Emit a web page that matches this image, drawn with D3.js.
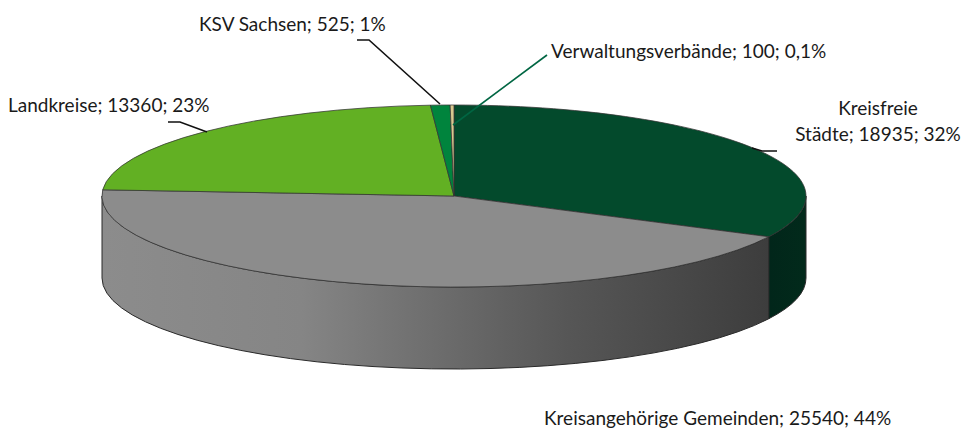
<!DOCTYPE html>
<html><head><meta charset="utf-8">
<script src="https://cdn.jsdelivr.net/npm/d3@7/dist/d3.min.js"></script>
<style>html,body{margin:0;background:#fff}svg{display:block}text{font-family:Lato,sans-serif;font-size:19px;fill:#1a1a1a}</style>
</head><body><svg width="964" height="430"></svg>
<script>
const categories=["Kreisfreie Städte","Kreisangehörige Gemeinden","Landkreise","KSV Sachsen","Verwaltungsverbände"];
const values=[18935,25540,13360,525,100];
const percentLabels=["32%","44%","23%","1%","0,1%"];
const topColors=["#034a2c","#8c8c8c","#62b023","#00843d","#d9c88f"];
const labelLines=[["Kreisfreie","Städte; 18935; 32%"],["Kreisangehörige Gemeinden; 25540; 44%"],["Landkreise; 13360; 23%"],["KSV Sachsen; 525; 1%"],["Verwaltungsverbände; 100; 0,1%"]];
const labelPos=[[[878,115,"middle"],[878,141,"middle"]],[[544,425,"start"]],[[8,112,"start"]],[[199,31,"start"]],[[551,58,"start"]]];
const leaders=[[[752,148],[762,151],[777,151]],[],[[168,122],[180,122],[207,132]],[[357,40],[369,40],[440,104]],[[547,55],[453,125]]];
const leaderColors=["#111","#111","#111","#111","#006643"];

const svg=d3.select("svg");
const cx=454,cy=196,rx=352,ry=91,depth=82;
const arcs=d3.pie().sort(null)(values);
const arc=d3.arc().innerRadius(0).outerRadius(1);
const px=a=>cx+rx*Math.sin(a), py=a=>cy-ry*Math.cos(a);

const defs=svg.append("defs");
const g1=defs.append("linearGradient").attr("id","sideGray").attr("gradientUnits","userSpaceOnUse")
 .attr("x1",cx-rx).attr("x2",px(arcs[0].endAngle)).attr("y1",0).attr("y2",0);
[[0,"#8c8c8c"],[.3,"#858585"],[.45,"#737373"],[.7,"#565656"],[1,"#3d3d3d"]].forEach(s=>g1.append("stop").attr("offset",s[0]).attr("stop-color",s[1]));
const g2=defs.append("linearGradient").attr("id","sideGreen").attr("gradientUnits","userSpaceOnUse")
 .attr("x1",px(arcs[0].endAngle)).attr("x2",cx+rx).attr("y1",0).attr("y2",0);
[[0,"#01261a"],[1,"#022a1b"]].forEach(s=>g2.append("stop").attr("offset",s[0]).attr("stop-color",s[1]));

// visible side walls: the part of each slice between 90° and 270°
const lo=Math.PI/2,hi=3*Math.PI/2;
const fills=["url(#sideGreen)","url(#sideGray)"];
arcs.slice(0,2).forEach((d,i)=>{
  const a0=Math.max(d.startAngle,lo),a1=Math.min(d.endAngle,hi);
  const s=[`M${px(a0)},${py(a0)}`,`L${px(a0)},${py(a0)+depth}`,
    `A${rx},${ry} 0 0 1 ${px(a1)},${py(a1)+depth}`,`L${px(a1)},${py(a1)}`,
    `A${rx},${ry} 0 0 0 ${px(a0)},${py(a0)}`,"Z"].join("");
  svg.append("path").attr("d",s).attr("fill",fills[i]).attr("stroke","#2a2a2a").attr("stroke-width",1);
});

// top face
svg.append("g").attr("transform",`translate(${cx},${cy}) scale(${rx},${ry})`)
 .selectAll("path").data(arcs).join("path")
 .attr("d",arc).attr("fill",(d,i)=>topColors[i])
 .attr("stroke","#333").attr("stroke-width",1).attr("stroke-opacity",.75)
 .attr("vector-effect","non-scaling-stroke");

// leaders
const line=d3.line();
svg.append("g").selectAll("path").data(leaders.filter(l=>l.length)).join("path")
 .attr("d",line).attr("fill","none").attr("stroke-width",1.6)
 .attr("stroke",(d)=>leaderColors[leaders.indexOf(d)]);

// labels
labelLines.forEach((lines,i)=>lines.forEach((t,j)=>{
  const [x,y,anchor]=labelPos[i][j];
  svg.append("text").attr("x",x).attr("y",y).attr("text-anchor",anchor).text(t);
}));
</script></body></html>
